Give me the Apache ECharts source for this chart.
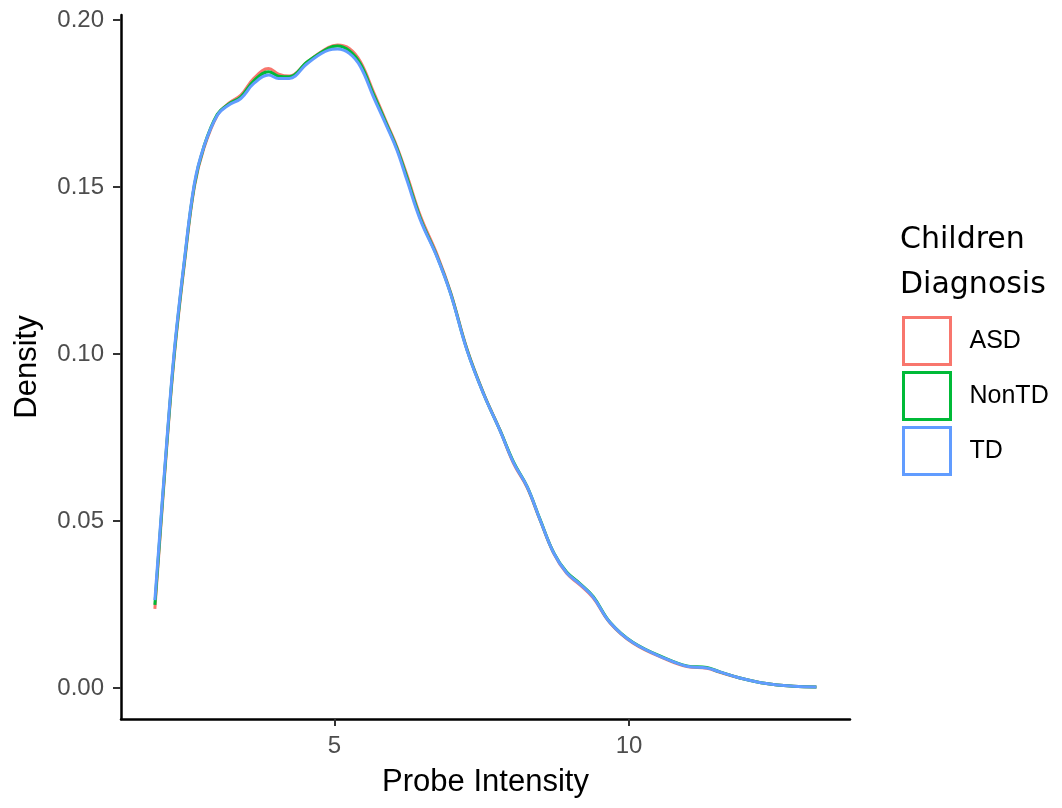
<!DOCTYPE html>
<html>
<head>
<meta charset="utf-8">
<script src="https://cdn.jsdelivr.net/npm/echarts@6/dist/echarts.min.js"></script>
<style>
  html, body { margin: 0; padding: 0; background: #fff; }
  #chart { width: 1062px; height: 808px; }
</style>
</head>
<body>
<div id="chart"></div>
<script>
// Probe intensity grid and density estimates per diagnosis group
const intensity = [1.95, 2.14, 2.28, 2.45, 2.62, 2.78, 3.01, 3.20, 3.41, 3.63, 3.88, 4.05, 4.23, 4.54, 4.90, 5.05, 5.25, 5.44, 5.66, 5.89, 6.06, 6.23, 6.46, 6.74, 6.97, 7.25, 7.53, 7.81, 8.04, 8.27, 8.49, 8.72, 8.94, 9.17, 9.39, 9.68, 10.07, 10.64, 10.98, 11.32, 11.54, 11.88, 12.33, 12.79, 13.18];

const densityASD = [0.0237, 0.0695, 0.0995, 0.1268, 0.150, 0.1615, 0.1715, 0.175, 0.1775, 0.1825, 0.1855, 0.1838, 0.1832, 0.1875, 0.1918, 0.1925, 0.1915, 0.1875, 0.1785, 0.169, 0.162, 0.1535, 0.1412, 0.1298, 0.1185, 0.1014, 0.0882, 0.0771, 0.0672, 0.0600, 0.0502, 0.0403, 0.0343, 0.0308, 0.0270, 0.0194, 0.0134, 0.0085, 0.0064, 0.0059, 0.0047, 0.0030, 0.0013, 0.0005, 0.0003];

const densityNonTD = [0.0249, 0.0702, 0.1002, 0.1275, 0.1505, 0.162, 0.1718, 0.1748, 0.177, 0.1818, 0.1845, 0.1832, 0.183, 0.1875, 0.1916, 0.1922, 0.1908, 0.1868, 0.1778, 0.1685, 0.1615, 0.1528, 0.1405, 0.1292, 0.1182, 0.1012, 0.0881, 0.0771, 0.0676, 0.0603, 0.0504, 0.0405, 0.0347, 0.0312, 0.0274, 0.0196, 0.0136, 0.0087, 0.0066, 0.0061, 0.0048, 0.0030, 0.0013, 0.0005, 0.0003];

const densityTD = [0.0263, 0.071, 0.101, 0.128, 0.151, 0.162, 0.1715, 0.1745, 0.1765, 0.181, 0.1835, 0.1825, 0.1825, 0.187, 0.191, 0.1913, 0.1900, 0.186, 0.177, 0.168, 0.161, 0.152, 0.140, 0.129, 0.118, 0.101, 0.088, 0.077, 0.0674, 0.0602, 0.0503, 0.0404, 0.0345, 0.031, 0.0272, 0.0195, 0.0135, 0.0086, 0.0065, 0.0060, 0.0048, 0.0030, 0.0013, 0.0005, 0.0003];

const groups = ['ASD', 'NonTD', 'TD'];
const groupColors = ['#F8766D', '#00BA38', '#619CFF'];
const groupValues = [densityASD, densityNonTD, densityTD];

const xTicks = [5, 10];
const yTicks = [0, 0.05, 0.10, 0.15, 0.20];

const FONT = 'Liberation Sans, Arial, sans-serif';
const FONT_NARROW = 'Liberation Sans Narrow, Liberation Sans, sans-serif';
const FONT_WIDE = 'DejaVu Sans, sans-serif';

const chart = echarts.init(document.getElementById('chart'), null, { renderer: 'canvas' });

const series = groups.map((name, i) => ({
  name: name,
  type: 'line',
  data: intensity.map((x, j) => [x, groupValues[i][j]]),
  smooth: 0.4,
  showSymbol: false,
  symbol: 'none',
  color: groupColors[i],
  lineStyle: { color: groupColors[i], width: 3 },
  z: 2 + i,
  animation: false
}));

chart.setOption({
  backgroundColor: '#ffffff',
  animation: false,
  title: {
    text: 'Children\nDiagnosis',
    left: 900,
    top: 218,
    padding: 0,
    textStyle: {
      fontFamily: FONT_WIDE,
      fontSize: 30,
      fontWeight: 'normal',
      color: '#000',
      lineHeight: 45
    }
  },
  legend: {
    orient: 'vertical',
    left: 902,
    top: 316,
    padding: 0,
    icon: 'rect',
    itemWidth: 47,
    itemHeight: 47,
    itemGap: 5,
    data: groups.map((g, i) => ({
      name: g,
      itemStyle: { color: '#ffffff', borderColor: groupColors[i], borderWidth: 3 }
    })),
    textStyle: {
      fontFamily: FONT,
      fontSize: 25,
      color: '#000',
      padding: [0, 0, 0, 14]
    },
    selectedMode: false
  },
  grid: {
    left: 121,
    right: 212,
    top: 15,
    bottom: 89,
    containLabel: false
  },
  xAxis: {
    type: 'value',
    min: 1.375,
    max: 13.75,
    name: 'Probe Intensity',
    nameLocation: 'middle',
    nameGap: 48,
    nameTextStyle: { fontFamily: FONT, fontSize: 31, color: '#000' },
    axisLine: { show: true, onZero: false, lineStyle: { color: '#000', width: 2.5 } },
    axisTick: { show: true, length: 7, customValues: xTicks, lineStyle: { color: '#333', width: 2 } },
    axisLabel: {
      customValues: xTicks,
      margin: 15,
      fontFamily: FONT,
      fontSize: 24,
      color: '#4D4D4D',
      formatter: v => String(v)
    },
    splitLine: { show: false }
  },
  yAxis: {
    type: 'value',
    min: -0.0093,
    max: 0.2015,
    name: 'Density',
    nameLocation: 'middle',
    nameGap: 78,
    nameRotate: 90,
    nameTextStyle: { fontFamily: FONT_NARROW, fontSize: 31, color: '#000' },
    axisLine: { show: true, onZero: false, lineStyle: { color: '#000', width: 2.5 } },
    axisTick: { show: true, length: 8, customValues: yTicks, lineStyle: { color: '#333', width: 2 } },
    axisLabel: {
      customValues: yTicks,
      margin: 17,
      fontFamily: FONT,
      fontSize: 24,
      color: '#4D4D4D',
      formatter: v => v.toFixed(2)
    },
    splitLine: { show: false }
  },
  series: series
});
</script>
</body>
</html>
